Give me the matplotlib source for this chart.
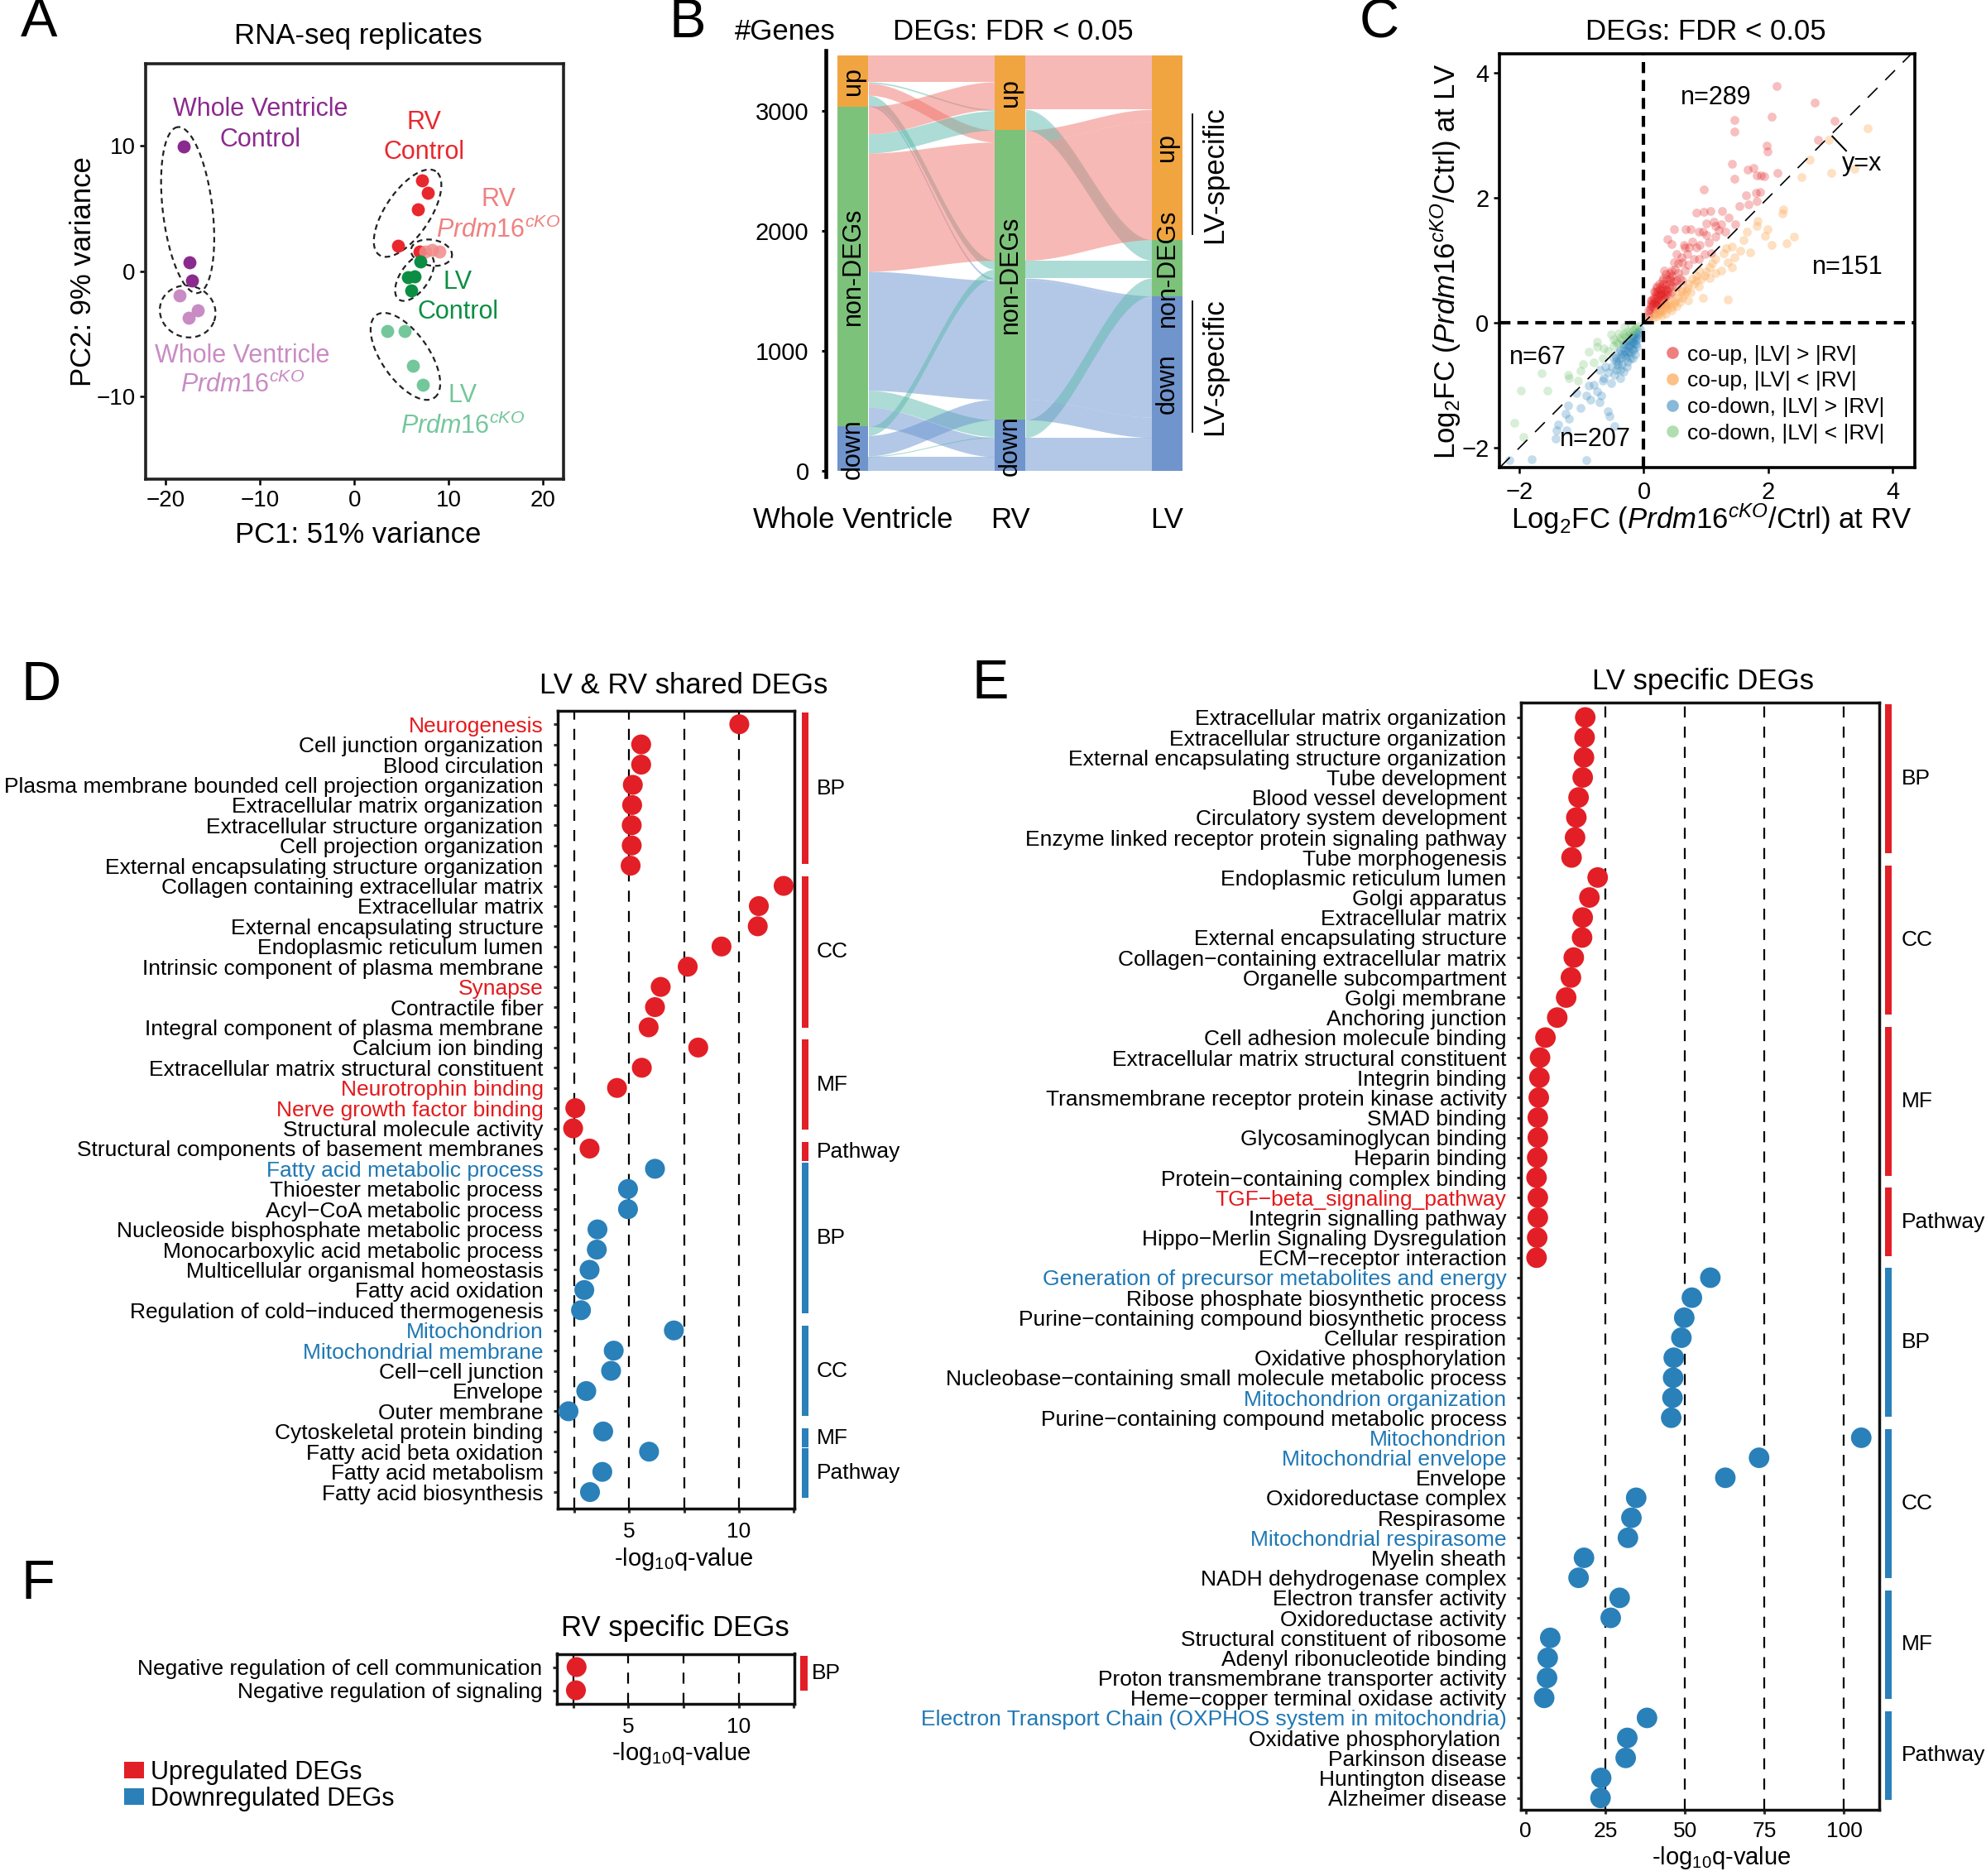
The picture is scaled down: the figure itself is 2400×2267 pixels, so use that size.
import numpy as np
import matplotlib
matplotlib.use('Agg')
import matplotlib.pyplot as plt
from matplotlib.patches import Patch, Rectangle
from matplotlib.lines import Line2D
import matplotlib.transforms as mtrans

plt.rcParams['font.family'] = ['Liberation Sans', 'DejaVu Sans']
plt.rcParams['mathtext.fontset'] = 'custom'
plt.rcParams['mathtext.rm'] = 'Liberation Sans'
plt.rcParams['mathtext.it'] = 'Liberation Sans:italic'
plt.rcParams['mathtext.bf'] = 'Liberation Sans:bold'

# ---------------- DATA ----------------
# Panel A: PCA
wv_ctrl_pc1 = [-18.1, -17.5, -17.2]
wv_ctrl_pc2 = [9.96, 0.74, -0.74]
wv_ko_pc1 = [-18.55, -16.6, -17.6]
wv_ko_pc2 = [-1.9, -3.1, -3.7]
rv_ctrl_pc1 = [7.2, 7.76, 6.78, 4.6, 6.9]
rv_ctrl_pc2 = [7.27, 6.24, 4.92, 2.06, 1.6]
rv_ko_pc1 = [7.5, 8.2, 9.05]
rv_ko_pc2 = [1.6, 1.7, 1.55]
lv_ctrl_pc1 = [7.0, 5.7, 6.4, 6.0]
lv_ctrl_pc2 = [0.8, -0.46, -0.4, -1.5]
lv_ko_pc1 = [3.5, 5.3, 6.24, 7.3]
lv_ko_pc2 = [-4.75, -4.75, -7.5, -9.07]
# ellipses: center (data), semi-axes (px), angle (deg)
ell_cx = [-17.69, -17.69, 5.65, 8.19, 6.39, 5.42]
ell_cy = [4.89, -3.20, 4.64, 1.49, -0.46, -6.78]
ell_a = [101, 34, 61, 25, 33, 61]
ell_b = [30, 31, 27, 15.6, 17, 28.5]
ell_ang = [96.8, -20, 56, -10, 55, -55]

# Panel B: alluvial combos (Whole Ventricle, RV, LV, #genes)
flow_wv = ['up', 'up', 'up', 'up', 'up', 'non', 'non', 'non', 'non', 'non', 'non', 'down', 'down', 'down', 'down']
flow_rv = ['up', 'up', 'non', 'non', 'non', 'up', 'up', 'non', 'non', 'down', 'down', 'non', 'non', 'down', 'down']
flow_lv = ['up', 'non', 'up', 'non', 'down', 'up', 'non', 'up', 'down', 'non', 'down', 'non', 'down', 'non', 'down']
flow_n = [221, 12, 100, 74, 18, 229, 160, 983, 990, 140, 160, 74, 170, 8, 120]
b_axes_names = ['Whole Ventricle', 'RV', 'LV']
b_strata = ['down', 'non', 'up']
b_strata_labels = {'down': 'down', 'non': 'non-DEGs', 'up': 'up'}

# Panel C: log2FC RV (x) vs LV (y)
c_up_lv_gt = [(2.14, 3.79), (2.74, 3.52), (2.06, 3.29), (3.06, 3.23), (1.45, 3.24), (1.45, 3.06), (2.80, 2.92),
              (1.97, 2.83), (1.99, 2.74), (1.41, 2.54), (1.67, 2.45), (1.76, 2.48), (2.15, 2.39), (1.82, 2.36),
              (1.88, 2.35), (1.94, 2.34), (1.45, 2.30), (0.97, 2.13), (1.64, 2.04), (1.80, 2.08), (1.87, 2.09),
              (1.82, 1.95), (1.54, 1.87), (1.68, 1.89), (0.85, 1.76), (0.96, 1.77), (1.07, 1.79), (1.26, 1.78),
              (1.37, 1.68), (1.47, 1.58), (1.00, 1.59), (1.13, 1.61), (1.24, 1.58), (0.48, 1.49), (0.67, 1.50),
              (0.75, 1.50), (0.89, 1.46), (1.15, 1.37), (1.05, 1.29), (1.31, 1.45), (0.38, 1.34), (0.44, 1.26),
              (0.66, 1.20), (0.73, 1.20), (0.84, 1.20), (0.98, 1.10), (1.09, 1.11), (0.89, 1.02), (0.49, 0.97),
              (0.62, 0.97), (0.71, 0.93), (0.80, 1.02), (0.33, 0.84), (0.44, 0.84), (0.55, 0.80), (0.66, 0.84),
              (0.31, 0.71), (0.42, 0.71), (0.53, 0.67), (0.20, 0.58), (0.27, 0.58), (0.35, 0.53), (0.44, 0.58),
              (0.18, 0.49), (0.24, 0.45), (0.33, 0.40), (0.42, 0.45), (0.13, 0.36), (0.20, 0.34), (0.27, 0.31),
              (0.35, 0.29), (0.11, 0.27), (0.18, 0.22), (0.24, 0.20), (0.09, 0.16), (0.16, 0.14), (0.07, 0.09),
              (0.53, 0.58), (0.62, 0.67), (0.44, 0.49), (0.15, 0.40), (0.22, 0.50), (0.28, 0.42), (0.30, 0.55),
              (0.25, 0.62), (0.35, 0.60), (0.38, 0.50), (0.12, 0.30), (0.20, 0.28), (0.28, 0.36), (0.32, 0.46),
              (0.18, 0.38), (0.22, 0.30), (0.22, 0.44), (0.36, 0.70), (0.40, 0.62), (0.30, 0.68), (0.45, 0.75),
              (0.50, 0.85), (0.55, 0.95), (0.60, 1.05), (0.70, 1.10), (0.65, 1.25), (0.78, 1.30), (0.90, 1.25),
              (0.58, 0.72), (0.48, 0.66), (0.42, 0.80), (0.35, 0.78), (0.52, 1.10), (0.95, 1.45), (1.15, 1.55),
              (1.20, 1.48), (1.00, 1.40), (0.10, 0.22), (0.14, 0.26), (0.17, 0.33), (0.23, 0.37), (0.29, 0.48),
              (0.19, 0.45), (0.26, 0.53), (0.33, 0.52), (0.21, 0.56), (0.31, 0.62), (0.16, 0.50), (0.36, 0.45),
              (0.40, 0.55), (0.27, 0.45), (0.12, 0.36), (0.24, 0.32), (0.08, 0.20), (0.15, 0.31), (0.34, 0.40),
              (0.43, 0.68)]
c_up_lv_lt = [(3.60, 3.11), (2.97, 2.93), (2.66, 2.61), (2.53, 2.33), (3.01, 2.39), (3.39, 2.46), (2.24, 1.81),
              (2.23, 1.75), (1.83, 1.63), (1.82, 1.55), (1.99, 1.50), (1.65, 1.45), (1.95, 1.39), (2.41, 1.37),
              (2.05, 1.24), (2.30, 1.27), (1.60, 1.32), (1.71, 1.13), (1.42, 1.22), (1.33, 1.19), (1.29, 1.11),
              (1.15, 1.02), (1.46, 1.04), (1.35, 0.97), (1.42, 0.88), (1.24, 0.84), (1.06, 0.89), (0.98, 0.75),
              (0.89, 0.84), (0.84, 0.67), (0.71, 0.62), (0.62, 0.53), (0.51, 0.49), (0.75, 0.49), (0.95, 0.40),
              (1.35, 0.37), (0.62, 0.40), (0.44, 0.36), (0.35, 0.25), (0.27, 0.18), (0.20, 0.14), (0.53, 0.27),
              (0.71, 0.36), (0.89, 0.58), (1.06, 0.71), (1.15, 0.80), (1.55, 1.15), (0.35, 0.14), (0.44, 0.20),
              (0.09, 0.07), (0.20, 0.10), (0.30, 0.20), (0.40, 0.30), (0.25, 0.15), (0.45, 0.25), (0.55, 0.40),
              (0.50, 0.35), (0.65, 0.45), (0.35, 0.28), (0.60, 0.50), (0.70, 0.55), (0.80, 0.62), (0.15, 0.08),
              (0.28, 0.12), (0.38, 0.22), (0.48, 0.30), (0.58, 0.33), (0.68, 0.50), (0.78, 0.70), (0.85, 0.75),
              (1.00, 0.82), (1.10, 0.95), (0.92, 0.70), (0.33, 0.30), (0.22, 0.19)]
c_down_lv_gt = [(-0.17, -0.20), (-0.25, -0.28), (-0.18, -0.30), (-0.33, -0.35), (-0.24, -0.39), (-0.16, -0.44),
                (-0.40, -0.48), (-0.31, -0.52), (-0.22, -0.57), (-0.44, -0.61), (-0.35, -0.66), (-0.27, -0.70),
                (-0.51, -0.70), (-0.58, -0.79), (-0.47, -0.83), (-0.38, -0.88), (-0.64, -0.88), (-0.71, -0.75),
                (-0.66, -0.92), (-0.53, -0.97), (-0.80, -0.99), (-0.89, -1.01), (-0.75, -1.10), (-0.69, -1.16),
                (-0.93, -1.16), (-1.08, -1.12), (-0.86, -1.23), (-0.71, -1.27), (-1.22, -1.32), (-1.02, -1.36),
                (-0.58, -1.41), (-1.26, -1.45), (-0.55, -1.49), (-1.20, -1.54), (-1.37, -1.63), (-1.40, -1.72),
                (-1.24, -1.72), (-0.47, -1.65), (-1.42, -1.85), (-1.80, -2.18), (-0.93, -2.19), (-2.16, -2.20),
                (-0.38, -0.44), (-0.13, -0.22), (-0.06, -0.10), (-0.08, -0.15), (-0.18, -0.57), (-0.13, -0.35),
                (-0.38, -0.75), (-0.49, -0.57), (-0.62, -0.70), (-0.45, -0.55), (-0.10, -0.18), (-0.20, -0.30),
                (-0.25, -0.35), (-0.30, -0.45), (-0.12, -0.28), (-0.18, -0.42), (-0.28, -0.55), (-0.22, -0.48),
                (-0.35, -0.50), (-0.40, -0.62), (-0.32, -0.40), (-0.14, -0.50), (-0.26, -0.62), (-0.45, -0.75),
                (-0.33, -0.78), (-0.11, -0.38), (-0.16, -0.25), (-0.21, -0.36), (-0.29, -0.34), (-0.13, -0.16),
                (-0.19, -0.22), (-0.24, -0.45), (-0.37, -0.55), (-0.42, -0.68), (-0.15, -0.33), (-0.10, -0.25),
                (-0.27, -0.48)]
c_down_lv_lt = [(-0.18, -0.13), (-0.27, -0.15), (-0.40, -0.17), (-0.49, -0.26), (-0.38, -0.24), (-0.64, -0.41),
                (-0.75, -0.39), (-0.66, -0.57), (-0.80, -0.63), (-1.02, -0.77), (-1.20, -0.88), (-1.06, -0.92),
                (-1.55, -1.08), (-1.64, -0.81), (-1.97, -1.08), (-2.08, -1.60), (-1.93, -1.83), (-0.75, -0.30),
                (-0.89, -0.46), (-1.22, -0.83), (-0.53, -0.19), (-0.31, -0.06), (-0.20, -0.02), (-0.49, -0.37),
                (-0.98, -0.66), (-0.12, -0.08), (-0.15, -0.10), (-0.22, -0.16), (-0.25, -0.20), (-0.30, -0.22),
                (-0.35, -0.28), (-0.42, -0.33), (-0.45, -0.30), (-0.08, -0.05), (-0.58, -0.45), (-0.33, -0.18)]
c_legend_labels = ['co-up, |LV| > |RV|', 'co-up, |LV| < |RV|', 'co-down, |LV| > |RV|', 'co-down, |LV| < |RV|']
c_counts = ['n=289', 'n=151', 'n=67', 'n=207']

# Panel D: LV & RV shared DEGs
d_terms = ['Neurogenesis', 'Cell junction organization', 'Blood circulation',
           'Plasma membrane bounded cell projection organization', 'Extracellular matrix organization',
           'Extracellular structure organization', 'Cell projection organization',
           'External encapsulating structure organization',
           'Collagen containing extracellular matrix', 'Extracellular matrix', 'External encapsulating structure',
           'Endoplasmic reticulum lumen', 'Intrinsic component of plasma membrane', 'Synapse', 'Contractile fiber',
           'Integral component of plasma membrane',
           'Calcium ion binding', 'Extracellular matrix structural constituent', 'Neurotrophin binding',
           'Nerve growth factor binding', 'Structural molecule activity',
           'Structural components of basement membranes',
           'Fatty acid metabolic process', 'Thioester metabolic process', 'Acyl\u2212CoA metabolic process',
           'Nucleoside bisphosphate metabolic process', 'Monocarboxylic acid metabolic process',
           'Multicellular organismal homeostasis', 'Fatty acid oxidation',
           'Regulation of cold\u2212induced thermogenesis',
           'Mitochondrion', 'Mitochondrial membrane', 'Cell\u2212cell junction', 'Envelope', 'Outer membrane',
           'Cytoskeletal protein binding',
           'Fatty acid beta oxidation', 'Fatty acid metabolism', 'Fatty acid biosynthesis']
d_logq = [10.02, 5.55, 5.55, 5.17, 5.14, 5.12, 5.12, 5.07,
          12.04, 10.91, 10.86, 9.21, 7.67, 6.44, 6.18, 5.89,
          8.15, 5.58, 4.45, 2.55, 2.45,
          3.20,
          6.18, 4.95, 4.95, 3.56, 3.53, 3.20, 2.96, 2.81,
          7.04, 4.30, 4.18, 3.05, 2.24,
          3.82,
          5.91, 3.78, 3.22]
d_group_names = ['BP', 'CC', 'MF', 'Pathway', 'BP', 'CC', 'MF', 'Pathway']
d_group_sizes = [8, 8, 5, 1, 8, 5, 1, 3]
d_group_dirs = ['up', 'up', 'up', 'up', 'down', 'down', 'down', 'down']
d_highlight = ['Neurogenesis', 'Synapse', 'Neurotrophin binding', 'Nerve growth factor binding',
               'Fatty acid metabolic process', 'Mitochondrion', 'Mitochondrial membrane']

# Panel E: LV specific DEGs
e_terms = ['Extracellular matrix organization', 'Extracellular structure organization',
           'External encapsulating structure organization', 'Tube development', 'Blood vessel development',
           'Circulatory system development', 'Enzyme linked receptor protein signaling pathway',
           'Tube morphogenesis',
           'Endoplasmic reticulum lumen', 'Golgi apparatus', 'Extracellular matrix',
           'External encapsulating structure', 'Collagen\u2212containing extracellular matrix',
           'Organelle subcompartment', 'Golgi membrane', 'Anchoring junction',
           'Cell adhesion molecule binding', 'Extracellular matrix structural constituent', 'Integrin binding',
           'Transmembrane receptor protein kinase activity', 'SMAD binding', 'Glycosaminoglycan binding',
           'Heparin binding', 'Protein\u2212containing complex binding',
           'TGF\u2212beta_signaling_pathway', 'Integrin signalling pathway',
           'Hippo\u2212Merlin Signaling Dysregulation', 'ECM\u2212receptor interaction',
           'Generation of precursor metabolites and energy', 'Ribose phosphate biosynthetic process',
           'Purine\u2212containing compound biosynthetic process', 'Cellular respiration',
           'Oxidative phosphorylation', 'Nucleobase\u2212containing small molecule metabolic process',
           'Mitochondrion organization', 'Purine\u2212containing compound metabolic process',
           'Mitochondrion', 'Mitochondrial envelope', 'Envelope', 'Oxidoreductase complex', 'Respirasome',
           'Mitochondrial respirasome', 'Myelin sheath', 'NADH dehydrogenase complex',
           'Electron transfer activity', 'Oxidoreductase activity', 'Structural constituent of ribosome',
           'Adenyl ribonucleotide binding', 'Proton transmembrane transporter activity',
           'Heme\u2212copper terminal oxidase activity',
           'Electron Transport Chain (OXPHOS system in mitochondria)', 'Oxidative phosphorylation ',
           'Parkinson disease', 'Huntington disease', 'Alzheimer disease']
e_logq = [18.7, 18.5, 18.3, 17.9, 16.6, 15.9, 15.5, 14.4,
          22.6, 20.0, 17.9, 17.7, 15.1, 14.2, 12.7, 9.9,
          6.2, 4.5, 4.3, 4.1, 3.8, 3.8, 3.6, 3.4,
          3.8, 3.8, 3.6, 3.4,
          58.0, 52.2, 49.8, 48.9, 46.5, 46.3, 46.1, 45.7,
          105.4, 73.3, 62.7, 34.7, 33.2, 32.1, 18.3, 16.6,
          29.5, 26.7, 7.7, 6.9, 6.7, 5.8,
          38.1, 31.9, 31.4, 23.7, 23.5]
e_group_names = ['BP', 'CC', 'MF', 'Pathway', 'BP', 'CC', 'MF', 'Pathway']
e_group_sizes = [8, 8, 8, 4, 8, 8, 6, 5]
e_group_dirs = ['up', 'up', 'up', 'up', 'down', 'down', 'down', 'down']
e_highlight = ['TGF\u2212beta_signaling_pathway', 'Generation of precursor metabolites and energy',
               'Mitochondrion organization', 'Mitochondrion', 'Mitochondrial envelope',
               'Mitochondrial respirasome', 'Electron Transport Chain (OXPHOS system in mitochondria)']

# Panel F: RV specific DEGs
f_terms = ['Negative regulation of cell communication', 'Negative regulation of signaling']
f_logq = [2.65, 2.62]
f_group_names = ['BP']
f_group_sizes = [2]
f_group_dirs = ['up']
f_highlight = []

legend_labels = ['Upregulated DEGs', 'Downregulated DEGs']

# ---------------- STYLE ----------------
W, H = 2400, 2267
RED = '#E21F26'
BLUE = '#2A80B9'
TXT_RED = '#E31A1C'
TXT_BLUE = '#1F78B4'
KO_MATH = r'$\mathit{Prdm16}^{\mathit{cKO}}$'

fig = plt.figure(figsize=(W / 100, H / 100), dpi=100)


def rect(l, t, r, b):
    return [l / W, 1 - b / H, (r - l) / W, (b - t) / H]


def ftext(x, y, s, **kw):
    return fig.text(x / W, 1 - y / H, s, **kw)


# panel letters
for letter, (lx, ly) in zip('ABCDEF', [(47, 27), (831, 28), (1667, 28), (50, 829), (1197, 827), (46, 1915)]):
    ftext(lx, ly, letter, fontsize=48, ha='center', va='center')

# ================= Panel A =================
axA = fig.add_axes(rect(176, 77, 681, 579))
xlA, ylA = (-22.15, 22.2), (-16.57, 16.56)
axA.set_xlim(*xlA)
axA.set_ylim(*ylA)
groupsA = [(wv_ctrl_pc1, wv_ctrl_pc2, '#8B2A8E', 1.0), (wv_ko_pc1, wv_ko_pc2, '#C98BC4', 1.0),
           (rv_ctrl_pc1, rv_ctrl_pc2, '#E8282E', 1.0), (rv_ko_pc1, rv_ko_pc2, '#F28B8B', 0.85),
           (lv_ctrl_pc1, lv_ctrl_pc2, '#0B8E43', 1.0), (lv_ko_pc1, lv_ko_pc2, '#74C79B', 1.0)]
for xs, ys, c, al in groupsA:
    axA.scatter(xs, ys, s=130, color=c, alpha=al, lw=0, zorder=3)
sx = (681 - 176) / (xlA[1] - xlA[0])
sy = (579 - 77) / (ylA[1] - ylA[0])
tt = np.linspace(0, 2 * np.pi, 300)
for cx, cy, a, b, ang in zip(ell_cx, ell_cy, ell_a, ell_b, ell_ang):
    th = np.deg2rad(ang)
    dx = a * np.cos(tt) * np.cos(th) - b * np.sin(tt) * np.sin(th)
    dy = a * np.cos(tt) * np.sin(th) + b * np.sin(tt) * np.cos(th)
    axA.plot(cx + dx / sx, cy + dy / sy, color='#222222', lw=1.6, ls=(0, (3, 2.2)), zorder=2)
labA = [('Whole Ventricle', -10.0, 12.9, '#8B2A8E'), ('Control', -10.0, 10.5, '#8B2A8E'),
        ('RV', 7.37, 11.9, '#E8282E'), ('Control', 7.37, 9.47, '#E8282E'),
        ('RV', 15.3, 5.75, '#F08080'), (KO_MATH, 15.3, 3.3, '#F08080'),
        ('LV', 11.0, -0.83, '#0B8E43'), ('Control', 11.0, -3.26, '#0B8E43'),
        ('Whole Ventricle', -11.9, -6.75, '#C98BC4'), (KO_MATH, -11.9, -9.1, '#C98BC4'),
        ('LV', 11.5, -9.93, '#74C79B'), (KO_MATH, 11.5, -12.4, '#74C79B')]
for s, x, y, c in labA:
    axA.text(x, y, s, color=c, fontsize=22, ha='center', va='center')
axA.set_xticks([-20, -10, 0, 10, 20])
axA.set_yticks([-10, 0, 10])
axA.tick_params(labelsize=20, length=5, width=1.8, pad=4)
for sp in axA.spines.values():
    sp.set_linewidth(2.6)
    sp.set_color('#222222')
ftext(433, 43, 'RNA-seq replicates', fontsize=25, ha='center', va='center')
ftext(433, 646, 'PC1: 51% variance', fontsize=25, ha='center', va='center')
ftext(100, 328, 'PC2: 9% variance', fontsize=25, ha='center', va='center', rotation=90)

# ================= Panel B =================
axB = fig.add_axes(rect(997.7, 60.7, 1449, 576))
axB.set_xlim(0.8245, 3.203)
axB.set_ylim(-45, 3501)
xpos = [1, 2, 3]
bw = 0.195
rank = {'down': 0, 'non': 1, 'up': 2}
cols_b = [flow_wv, flow_rv, flow_lv]
orders = [(0, 1, 2), (1, 2, 0), (2, 1, 0)]
nf = len(flow_n)
bottoms = np.zeros((3, nf))
for k in range(3):
    keys = [tuple(rank[cols_b[j][i]] for j in orders[k]) for i in range(nf)]
    idx = sorted(range(nf), key=lambda i: keys[i])
    c = 0
    for i in idx:
        bottoms[k, i] = c
        c += flow_n[i]
flow_col = {'up': '#F1756D', 'non': '#5DB9AD', 'down': '#6993D1'}
for i in range(nf):
    for k in range(2):
        xs = np.linspace(xpos[k] + bw / 2, xpos[k + 1] - bw / 2, 80)
        t = (xs - xs[0]) / (xs[-1] - xs[0])
        s = 3 * t ** 2 - 2 * t ** 3
        yb = bottoms[k, i] + (bottoms[k + 1, i] - bottoms[k, i]) * s
        axB.fill_between(xs, yb, yb + flow_n[i], color=flow_col[flow_lv[i]], alpha=0.5, lw=0, zorder=1)
strat_col = {'up': '#F0A541', 'non': '#7DC27A', 'down': '#7094CC'}
for k in range(3):
    base = 0
    for cat in b_strata:
        tot = sum(n for n, cc in zip(flow_n, cols_b[k]) if cc == cat)
        axB.add_patch(Rectangle((xpos[k] - bw / 2, base), bw, tot, facecolor=strat_col[cat], edgecolor='none',
                                zorder=3))
        axB.text(xpos[k], base + tot / 2, b_strata_labels[cat], rotation=90, ha='center', va='center',
                 fontsize=22, zorder=4)
        base += tot
# LV-specific brackets: LV lodes coming from RV non-DEGs
for cat in ['up', 'down']:
    sel = [i for i in range(nf) if flow_lv[i] == cat and flow_rv[i] == 'non']
    lo = min(bottoms[2, i] for i in sel)
    hi = max(bottoms[2, i] + flow_n[i] for i in sel)
    inset = 0.04 * (hi - lo)
    axB.plot([3.159, 3.159], [lo + inset, hi - inset], color='k', lw=1.3, clip_on=False)
    axB.text(3.30, (lo + hi) / 2, 'LV-specific', rotation=90, ha='center', va='center', fontsize=25,
             clip_on=False)
for sp in ['top', 'right', 'bottom']:
    axB.spines[sp].set_visible(False)
axB.spines['left'].set_linewidth(3.3)
axB.set_yticks([0, 1000, 2000, 3000])
axB.set_xticks(xpos)
axB.set_xticklabels(b_axes_names, fontsize=25)
axB.tick_params(axis='y', labelsize=21, length=3.5, width=2.2, pad=11)
axB.tick_params(axis='x', length=0, pad=26)
ftext(948.6, 38, '#Genes', fontsize=25, ha='center', va='center')
ftext(1224, 38, 'DEGs: FDR < 0.05', fontsize=25, ha='center', va='center')

# ================= Panel C =================
axC = fig.add_axes(rect(1812, 65, 2313.6, 564.6))
axC.set_xlim(-2.32, 4.35)
axC.set_ylim(-2.31, 4.30)
c_sets = [(c_up_lv_gt, '#E31A1C', 0.28), (c_up_lv_lt, '#FDAE61', 0.38),
          (c_down_lv_gt, '#2B83BA', 0.28), (c_down_lv_lt, '#66BD63', 0.25)]
for pts, col, al in c_sets:
    arr = np.array(pts)
    axC.scatter(arr[:, 0], arr[:, 1], s=60, color=col, alpha=al, lw=0, zorder=2)
axC.axvline(0, color='k', lw=3.0, ls=(0, (3.2, 2.0)), zorder=3)
axC.axhline(0, color='k', lw=3.0, ls=(0, (3.2, 2.0)), zorder=3)
axC.axline((0, 0), slope=1, color='k', lw=1.2, ls=(0, (10, 8)), zorder=3)
for s, x, y in zip(c_counts, [1.16, 3.28, -1.70, -0.78], [3.60, 0.89, -0.55, -1.86]):
    axC.text(x, y, s, fontsize=22, ha='center', va='center', zorder=4)
axC.text(3.51, 2.54, 'y=x', fontsize=22, ha='center', va='center')
axC.plot([3.03, 3.25], [2.98, 2.75], color='k', lw=1.5)
handles = [Line2D([], [], marker='o', ls='', markersize=10.5, markerfacecolor=col, markeredgewidth=0,
                  alpha=min(1, al * 2.0)) for _, col, al in c_sets]
axC.legend(handles, c_legend_labels, loc='upper left', bbox_to_anchor=(0.395, 0.296), frameon=False,
           fontsize=19, handlelength=0.8, handletextpad=0.3, labelspacing=0.29, borderpad=0, borderaxespad=0)
axC.set_xticks([-2, 0, 2, 4])
axC.set_yticks([-2, 0, 2, 4])
axC.tick_params(labelsize=21, length=5, width=1.8, pad=4)
axC.tick_params(axis='x', pad=7)
for sp in axC.spines.values():
    sp.set_linewidth(2.6)
ftext(2061, 38, 'DEGs: FDR < 0.05', fontsize=25, ha='center', va='center')
ftext(2068, 627, r'Log$_2$FC (' + r'$\mathit{Prdm16}^{\mathit{cKO}}$' + '/Ctrl) at RV', fontsize=25,
      ha='center', va='center')
ftext(1747, 316, r'Log$_2$FC (' + r'$\mathit{Prdm16}^{\mathit{cKO}}$' + '/Ctrl) at LV', fontsize=25,
      ha='center', va='center', rotation=90)


# ================= Dot panels D, E, F =================
def dot_panel(ax, terms, vals, gnames, gsizes, gdirs, highlight, xlim, pad_top, pad_bot, xticks, xticklabels,
              grid, bar_x0, bar_x1, txt_x, dot_s, xpad):
    n = len(terms)
    dirs = np.repeat(gdirs, gsizes)
    rows = np.arange(1, n + 1)
    for g in grid:
        ax.axvline(g, color='k', lw=1.6, ls=(0, (6, 5)), zorder=1)
    ax.scatter(vals, rows, s=dot_s, c=[RED if d == 'up' else BLUE for d in dirs], lw=0, zorder=3,
               clip_on=False)
    ax.set_xlim(*xlim)
    ax.set_ylim(n + pad_bot, 1 - pad_top)
    ax.set_yticks(rows)
    ax.set_yticklabels(terms, fontsize=19)
    for lab, d in zip(ax.get_yticklabels(), dirs):
        if lab.get_text() in highlight:
            lab.set_color(TXT_RED if d == 'up' else TXT_BLUE)
    ax.set_xticks(xticks)
    ax.set_xticklabels(xticklabels, fontsize=19)
    ax.tick_params(axis='y', length=3.6, width=2.2, color='#333333', pad=9)
    ax.tick_params(axis='x', length=3.6, width=2.2, color='#333333', pad=xpad)
    for sp in ax.spines.values():
        sp.set_linewidth(2.5)
        sp.set_color('#111111')
    trans = mtrans.blended_transform_factory(ax.transAxes, ax.transAxes)
    cs = 0
    for name, size, d in zip(gnames, gsizes, gdirs):
        top = cs + 0.08
        length = max(size - 0.6, 0.95)
        y0 = 1 - (top + length) / n
        ax.add_patch(Rectangle((bar_x0, y0), bar_x1 - bar_x0, length / n, transform=trans,
                               facecolor=RED if d == 'up' else BLUE, edgecolor='none', clip_on=False))
        ax.text(txt_x, y0 + length / n / 2, name, transform=trans, fontsize=19, ha='left', va='center')
        cs += size


axD = fig.add_axes(rect(674, 859.3, 960, 1822.6))
dot_panel(axD, d_terms, d_logq, d_group_names, d_group_sizes, d_group_dirs, d_highlight, (1.75, 12.53),
          0.65, 0.8, [2.5, 5, 7.5, 10, 12.5], ['', '5', '', '10', ''], [2.5, 5, 7.5, 10],
          1.033, 1.059, 1.093, 300, 8)
ftext(826, 828, 'LV & RV shared DEGs', fontsize=25, ha='center', va='center')
ftext(826, 1884, r'-log$_{10}$q-value', fontsize=21, ha='center', va='center')

axE = fig.add_axes(rect(1838, 849.3, 2270.8, 2187.4))
dot_panel(axE, e_terms, e_logq, e_group_names, e_group_sizes, e_group_dirs, e_highlight, (-1.5, 111),
          0.73, 0.61, [0, 25, 50, 75, 100], ['0', '25', '50', '75', '100'], [25, 50, 75, 100],
          1.0155, 1.0347, 1.063, 320, 6)
ftext(2058, 824, 'LV specific DEGs', fontsize=25, ha='center', va='center')
ftext(2080, 2245, r'-log$_{10}$q-value', fontsize=21, ha='center', va='center')

axF = fig.add_axes(rect(672.8, 1998.5, 960, 2058.6))
dot_panel(axF, f_terms, f_logq, f_group_names, f_group_sizes, f_group_dirs, f_highlight, (1.75, 12.53),
          0.57, 0.57, [2.5, 5, 7.5, 10, 12.5], ['', '5', '', '10', ''], [2.5, 5, 7.5, 10],
          1.026, 1.055, 1.073, 300, 8)
ftext(816, 1967, 'RV specific DEGs', fontsize=25, ha='center', va='center')
ftext(823, 2119, r'-log$_{10}$q-value', fontsize=21, ha='center', va='center')

fig.legend([Patch(facecolor=RED, edgecolor='none'), Patch(facecolor=BLUE, edgecolor='none')], legend_labels,
           loc='upper left', bbox_to_anchor=(150 / W, 1 - 2127 / H), frameon=False, fontsize=22,
           handlelength=0.8, handleheight=0.65, handletextpad=0.25, labelspacing=0.05, borderpad=0,
           borderaxespad=0)

fig.savefig('out.png', dpi=100)
